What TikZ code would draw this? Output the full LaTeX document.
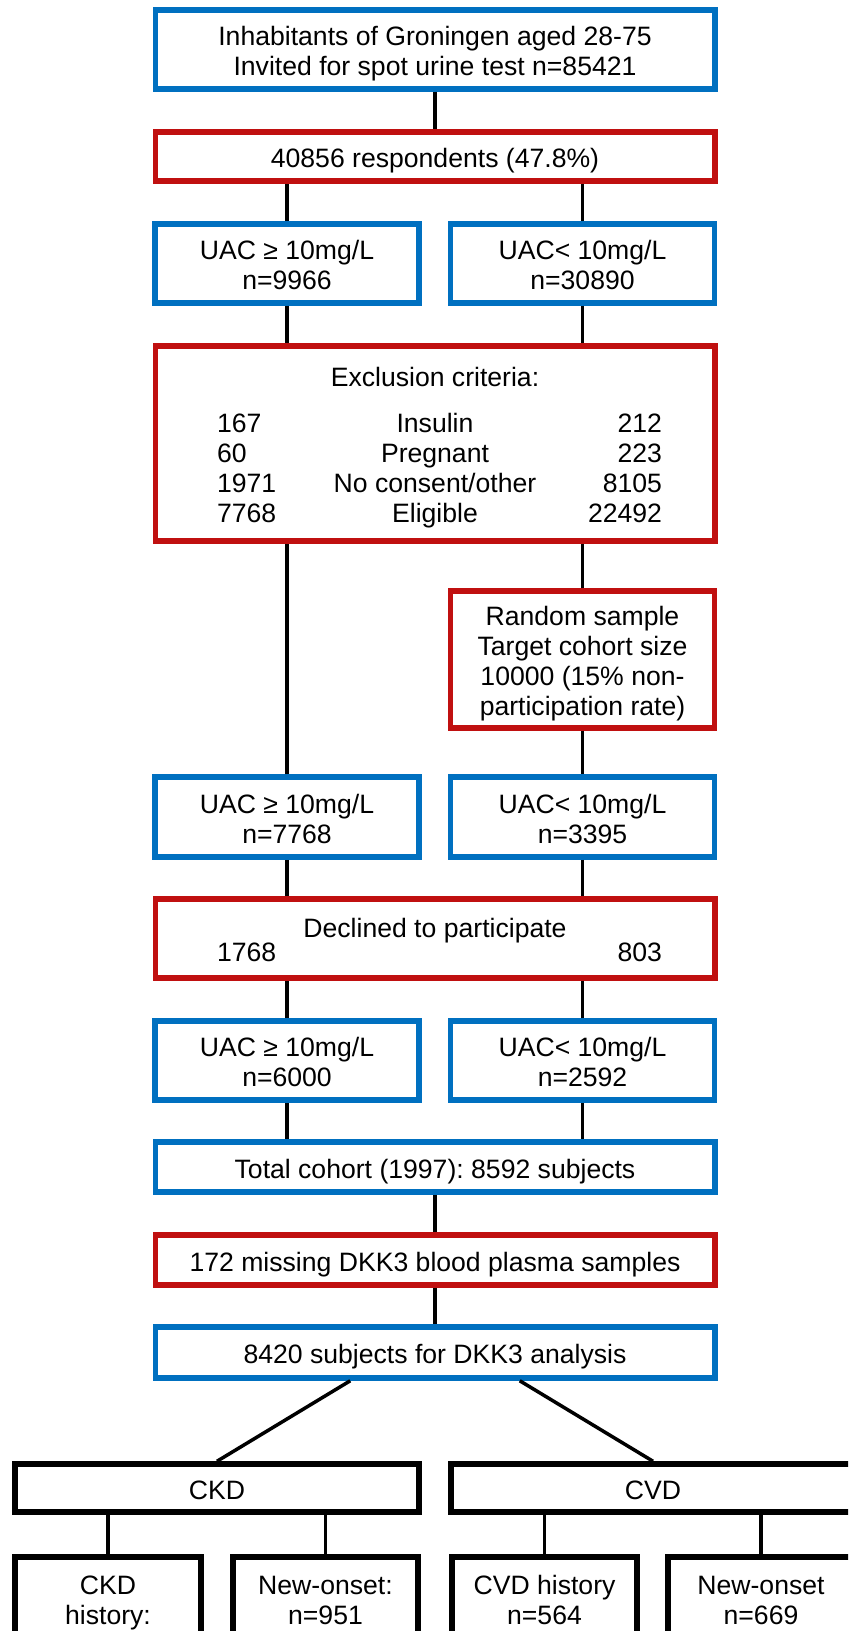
\documentclass[tikz,border=0pt]{standalone}
\usepackage{fontspec}
\setmainfont{Liberation Sans}
\usepackage{array}
\usetikzlibrary{calc}
\definecolor{boxblue}{RGB}{0,112,192}
\definecolor{boxred}{RGB}{192,16,16}
\frenchspacing
% box text sits a little low, as in the original
\newcommand{\lowtext}[1]{\raisebox{-2.5pt}[\height][\depth]{\begin{tabular}{@{}c@{}}#1\end{tabular}}}
\newcolumntype{T}{@{\hspace{4.5pt}}p{49pt}@{}>{\centering\arraybackslash}p{120pt}@{}>{\raggedleft\arraybackslash}p{53.5pt}@{}}
\tikzset{
  flow box/.style  = {draw, line width=2.75pt, align=center, fill=white,
                       font=\fontsize{13.3}{15}\selectfont, inner sep=2pt},
  blue box/.style  = {flow box, draw=boxblue},
  red box/.style   = {flow box, draw=boxred},
  black box/.style = {flow box, draw=black},
  wide box/.style  = {minimum width=279.75pt},
  half box/.style  = {minimum width=132pt},
  conn/.style      = {line width=1.75pt, black},
}

\begin{document}
\begin{tikzpicture}[x=0.5pt, y=-0.5pt]
  \useasboundingbox (0,0) rectangle (848,1631);
  \clip (0,0) rectangle (848,1631);

  %% --- screening ------------------------------------------------
  \node[blue box, wide box, minimum height=39.5pt] (invited) at (435,49.5)
    {\lowtext{Inhabitants of Groningen aged 28-75\\Invited for spot urine test n=85421}};
  \node[red box, wide box, minimum height=24.5pt] (resp) at (435,156.5)
    {\lowtext{40856 respondents (47.8\%)}};
  \node[blue box, half box, minimum height=39.5pt] (uacA) at (287,263.5)
    {\lowtext{UAC ≥ 10mg/L\\n=9966}};
  \node[blue box, half box, minimum height=39.5pt] (uacB) at (582.5,263.5)
    {\lowtext{UAC< 10mg/L\\n=30890}};

  \node[red box, wide box, minimum height=97.5pt] (excl) at (435,443.5)
    {\lowtext{\begin{tabular}{T}
       \multicolumn{3}{c}{Exclusion criteria:}\\[8pt]
       167  & Insulin           & 212\\
       60   & Pregnant          & 223\\
       1971 & No consent/other  & 8105\\
       7768 & Eligible          & 22492
     \end{tabular}}};
  \node[red box, half box, minimum height=68.5pt] (rand) at (582.5,659.5)
    {\lowtext{Random sample\\Target cohort size\\10000 (15\% non-\\participation rate)}};

  %% --- cohort -----------------------------------------------------
  \node[blue box, half box, minimum height=40pt] (uacC) at (287,817)
    {\lowtext{UAC ≥ 10mg/L\\n=7768}};
  \node[blue box, half box, minimum height=40pt] (uacD) at (582.5,817)
    {\lowtext{UAC< 10mg/L\\n=3395}};
  \node[red box, wide box, minimum height=39.5pt] (decl) at (435,938.5)
    {\lowtext{\begin{tabular}{T}
       \multicolumn{3}{c}{Declined to participate}\\[-3pt]
       1768 & & 803
     \end{tabular}}};
  \node[blue box, half box, minimum height=39.5pt] (uacE) at (287,1060.5)
    {\lowtext{UAC ≥ 10mg/L\\n=6000}};
  \node[blue box, half box, minimum height=39.5pt] (uacF) at (582.5,1060.5)
    {\lowtext{UAC< 10mg/L\\n=2592}};
  \node[blue box, wide box, minimum height=25pt] (total) at (435,1167)
    {\lowtext{Total cohort (1997): 8592 subjects}};
  \node[red box, wide box, minimum height=25pt] (miss) at (435,1260)
    {\lowtext{172 missing DKK3 blood plasma samples}};
  \node[blue box, wide box, minimum height=25.5pt] (final) at (435,1352.5)
    {\lowtext{8420 subjects for DKK3 analysis}};

  %% --- outcomes ---------------------------------------------------
  \node[black box, minimum width=202pt, minimum height=24pt] (ckd) at (217,1488) {\lowtext{CKD}};
  \node[black box, minimum width=202pt, minimum height=24pt] (cvd) at (653,1488) {\lowtext{CVD}};
  \node[black box, minimum width=93pt, minimum height=41pt] (ckdhist) at (108,1598)
    {\lowtext{CKD\\history:}};
  \node[black box, minimum width=92.5pt, minimum height=41pt] (ckdnew) at (325.5,1598)
    {\lowtext{New-onset:\\n=951}};
  \node[black box, minimum width=92.5pt, minimum height=41pt] (cvdhist) at (544.5,1598)
    {\lowtext{CVD history\\n=564}};
  \node[black box, minimum width=93pt, minimum height=41pt] (cvdnew) at (761,1598)
    {\lowtext{New-onset\\n=669}};

  %% connectors
  \draw[conn] (invited) -- (resp);
  \draw[conn] (uacA.north) -- (uacA.north |- resp.south);
  \draw[conn] (uacB.north) -- (uacB.north |- resp.south);
  \draw[conn] (uacA.south) -- (uacA.south |- excl.north);
  \draw[conn] (uacB.south) -- (uacB.south |- excl.north);
  \draw[conn] (uacC.north) -- (uacC.north |- excl.south);
  \draw[conn] (rand.north) -- (rand.north |- excl.south);
  \draw[conn] (rand) -- (uacD);
  \draw[conn] (uacC.south) -- (uacC.south |- decl.north);
  \draw[conn] (uacD.south) -- (uacD.south |- decl.north);
  \draw[conn] (uacE.north) -- (uacE.north |- decl.south);
  \draw[conn] (uacF.north) -- (uacF.north |- decl.south);
  \draw[conn] (uacE.south) -- (uacE.south |- total.north);
  \draw[conn] (uacF.south) -- (uacF.south |- total.north);
  \draw[conn] (total) -- (miss);
  \draw[conn] (miss) -- (final);
  \draw[conn] ($(final.south west)!.35!(final.south east)$) -- (ckd.north);
  \draw[conn] ($(final.south west)!.65!(final.south east)$) -- (cvd.north);
  \draw[conn] (ckdhist.north) -- (ckdhist.north |- ckd.south);
  \draw[conn] (ckdnew.north) -- (ckdnew.north |- ckd.south);
  \draw[conn] (cvdhist.north) -- (cvdhist.north |- cvd.south);
  \draw[conn] (cvdnew.north) -- (cvdnew.north |- cvd.south);
\end{tikzpicture}
\end{document}
